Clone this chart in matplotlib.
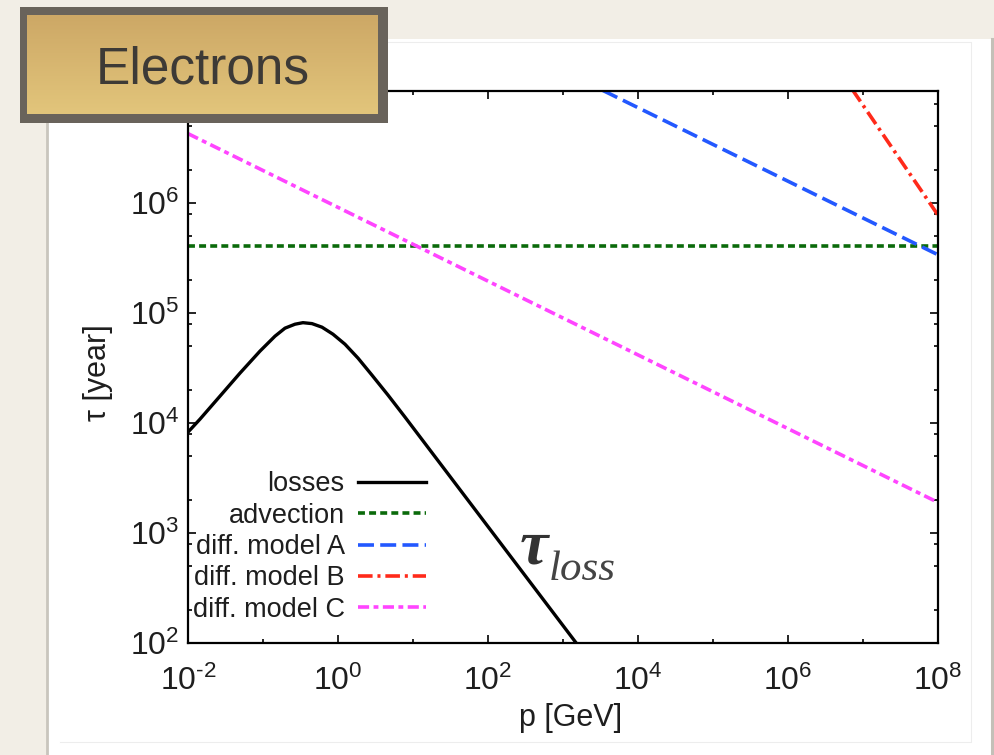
import numpy as np
import matplotlib
matplotlib.use('Agg')
import matplotlib.pyplot as plt
from matplotlib.ticker import FixedLocator, NullFormatter, FuncFormatter
from matplotlib.patches import Rectangle
from matplotlib.lines import Line2D
from matplotlib.colors import LinearSegmentedColormap

plt.rcParams['font.family'] = ['Liberation Sans', 'DejaVu Sans']
plt.rcParams['mathtext.fontset'] = 'custom'
plt.rcParams['mathtext.rm'] = 'Liberation Sans'
plt.rcParams['mathtext.it'] = 'Liberation Sans:italic'
plt.rcParams['mathtext.bf'] = 'Liberation Sans:bold'
plt.rcParams['lines.scale_dashes'] = False

# ---------------- data ----------------
losses_p = [0.01, 0.01445, 0.0267, 0.0493, 0.0912, 0.1445, 0.1965, 0.267, 0.341,
            0.45, 0.612, 0.857, 1.24, 1.85, 2.84, 4.64, 7.82, 1500.0]
losses_tau = [8.28e3, 1.087e4, 1.76e4, 2.85e4, 4.52e4, 6.18e4, 7.31e4, 7.94e4, 8.2e4,
              8.04e4, 7.46e4, 6.44e4, 5.22e4, 3.9e4, 2.73e4, 1.8e4, 1.135e4, 100.0]

advection_p = [1e-2, 1e8]
advection_tau = [4.05e5, 4.05e5]

modelA_p = [1e3, 1e8]
modelA_tau = [1.6e7, 3.4e5]

modelB_p = [1e6, 1e8]
modelB_tau = [7.8e7, 7.8e5]

modelC_p = [1e-2, 1e8]
modelC_tau = [4.3e6, 1.9e3]

labels = ['losses', 'advection', 'diff. model A', 'diff. model B', 'diff. model C']

x_major_ticks = [1e-2, 1e0, 1e2, 1e4, 1e6, 1e8]
x_minor_ticks = [1e-1, 1e1, 1e3, 1e5, 1e7]
y_major_ticks = [1e2, 1e3, 1e4, 1e5, 1e6]
y_minor_ticks = [m * d for d in [1e2, 1e3, 1e4, 1e5, 1e6] for m in (2, 5, 8)]

# ---------------- figure ----------------
W, H = 994, 755
fig = plt.figure(figsize=(W / 100, H / 100), dpi=100)
fig.patch.set_facecolor('#f2eee6')

def fx(x):
    return x / W

def fy(y):
    return 1 - y / H

# white slide panel
fig.add_artist(Rectangle((fx(48), fy(755)), (991 - 48) / W, (755 - 39) / H,
                         transform=fig.transFigure, facecolor='white',
                         edgecolor='none', zorder=-10))
fig.add_artist(Line2D([fx(47), fx(47)], [fy(39), fy(755)], transform=fig.transFigure,
                      color='#c9c5bd', lw=2.0, zorder=-9))
fig.add_artist(Line2D([fx(992), fx(992)], [fy(39), fy(755)], transform=fig.transFigure,
                      color='#c4c0b8', lw=2.2, zorder=-9))
# faint border of the embedded picture
fig.add_artist(Line2D([fx(60), fx(971), fx(971), fx(60)], [fy(42), fy(42), fy(742), fy(742)],
                      transform=fig.transFigure, color='#ededed', lw=0.8, zorder=-8))

ax = fig.add_axes([fx(188), fy(643), 750 / W, 552 / H])
ax.set_facecolor('none')

lw = 2.6
ax.plot(losses_p, losses_tau, color='black', lw=2.4, label=labels[0])
ax.plot(advection_p, advection_tau, color='#0b6a0b', lw=lw, dashes=(5, 3), label=labels[1])
ax.plot(modelA_p, modelA_tau, color='#2358ff', lw=lw, dashes=(11.5, 4.5), label=labels[2])
ax.plot(modelB_p, modelB_tau, color='#ff2a1a', lw=lw, dashes=(10.5, 3.5, 2.2, 3.5), label=labels[3])
ax.plot(modelC_p, modelC_tau, color='#ff45ff', lw=lw, dashes=(8, 3.2, 3.5, 3.2), label=labels[4])

ax.set_xscale('log')
ax.set_yscale('log')
ax.set_xlim(1e-2, 1e8)
ax.set_ylim(1e2, 1.05e7)

def fmt_func(v, pos):
    e = int(round(np.log10(v)))
    if e < 0:
        return r'$10^{\text{-}%d}$' % (-e)
    return r'$10^{%d}$' % e

ax.xaxis.set_major_locator(FixedLocator(x_major_ticks))
ax.xaxis.set_minor_locator(FixedLocator(x_minor_ticks))
ax.yaxis.set_major_locator(FixedLocator(y_major_ticks))
ax.yaxis.set_minor_locator(FixedLocator(y_minor_ticks))
ax.xaxis.set_major_formatter(FuncFormatter(fmt_func))
ax.yaxis.set_major_formatter(FuncFormatter(fmt_func))
ax.xaxis.set_minor_formatter(NullFormatter())
ax.yaxis.set_minor_formatter(NullFormatter())

ax.tick_params(which='both', direction='in', top=True, right=True, width=1.2,
               colors='black', labelcolor='#1e1e1e', labelsize=23)
ax.tick_params(which='major', length=6)
ax.tick_params(which='minor', length=3)
ax.tick_params(axis='x', which='major', pad=16)
ax.tick_params(axis='y', which='major', pad=6)
for s in ax.spines.values():
    s.set_linewidth(1.6)

ax.set_xlabel('p [GeV]', fontsize=22, color='#1e1e1e')
ax.set_ylabel('τ [year]', fontsize=22, color='#1e1e1e')
ax.xaxis.set_label_coords((571 - 188) / 750, (643 - 703) / 552)
ax.yaxis.set_label_coords((113 - 188) / 750, 0.49)

ax.legend(loc='center right', bbox_to_anchor=(fx(426), fy(547)), bbox_transform=fig.transFigure,
          frameon=False, markerfirst=False, fontsize=19.5, handlelength=2.5,
          handletextpad=0.5, labelspacing=0.2, borderpad=0, borderaxespad=0,
          labelcolor='#1e1e1e')

# tau_loss annotation
fig.text(fx(520), fy(564), 'τ', family=['Liberation Serif', 'DejaVu Serif'], style='italic',
         weight='bold', fontsize=46, color='#333333', va='baseline', ha='left')
fig.text(fx(549), fy(580), 'loss', family=['Liberation Serif', 'DejaVu Serif'], style='italic',
         fontsize=31, color='#444444', va='baseline', ha='left')

# "Electrons" label box
fig.add_artist(Rectangle((fx(20), fy(123)), (388 - 20) / W, (123 - 7) / H,
                         transform=fig.transFigure, facecolor='#69635b',
                         edgecolor='none', zorder=5))
gax = fig.add_axes([fx(27), fy(114), (378 - 27) / W, (114 - 15) / H])
gax.set_zorder(6)
grad = np.linspace(0, 1, 100).reshape(-1, 1)
cmap = LinearSegmentedColormap.from_list('gold', ['#cda866', '#e2c57b'])
gax.imshow(grad, aspect='auto', cmap=cmap, extent=(0, 1, 0, 1), origin='upper')
gax.set_axis_off()
gax.text(0.5, (114 - 83) / (114 - 15), 'Electrons', transform=gax.transAxes,
         ha='center', va='baseline', fontsize=37, color='#3d3a36')

fig.savefig('out.png', dpi=100, facecolor=fig.get_facecolor())
